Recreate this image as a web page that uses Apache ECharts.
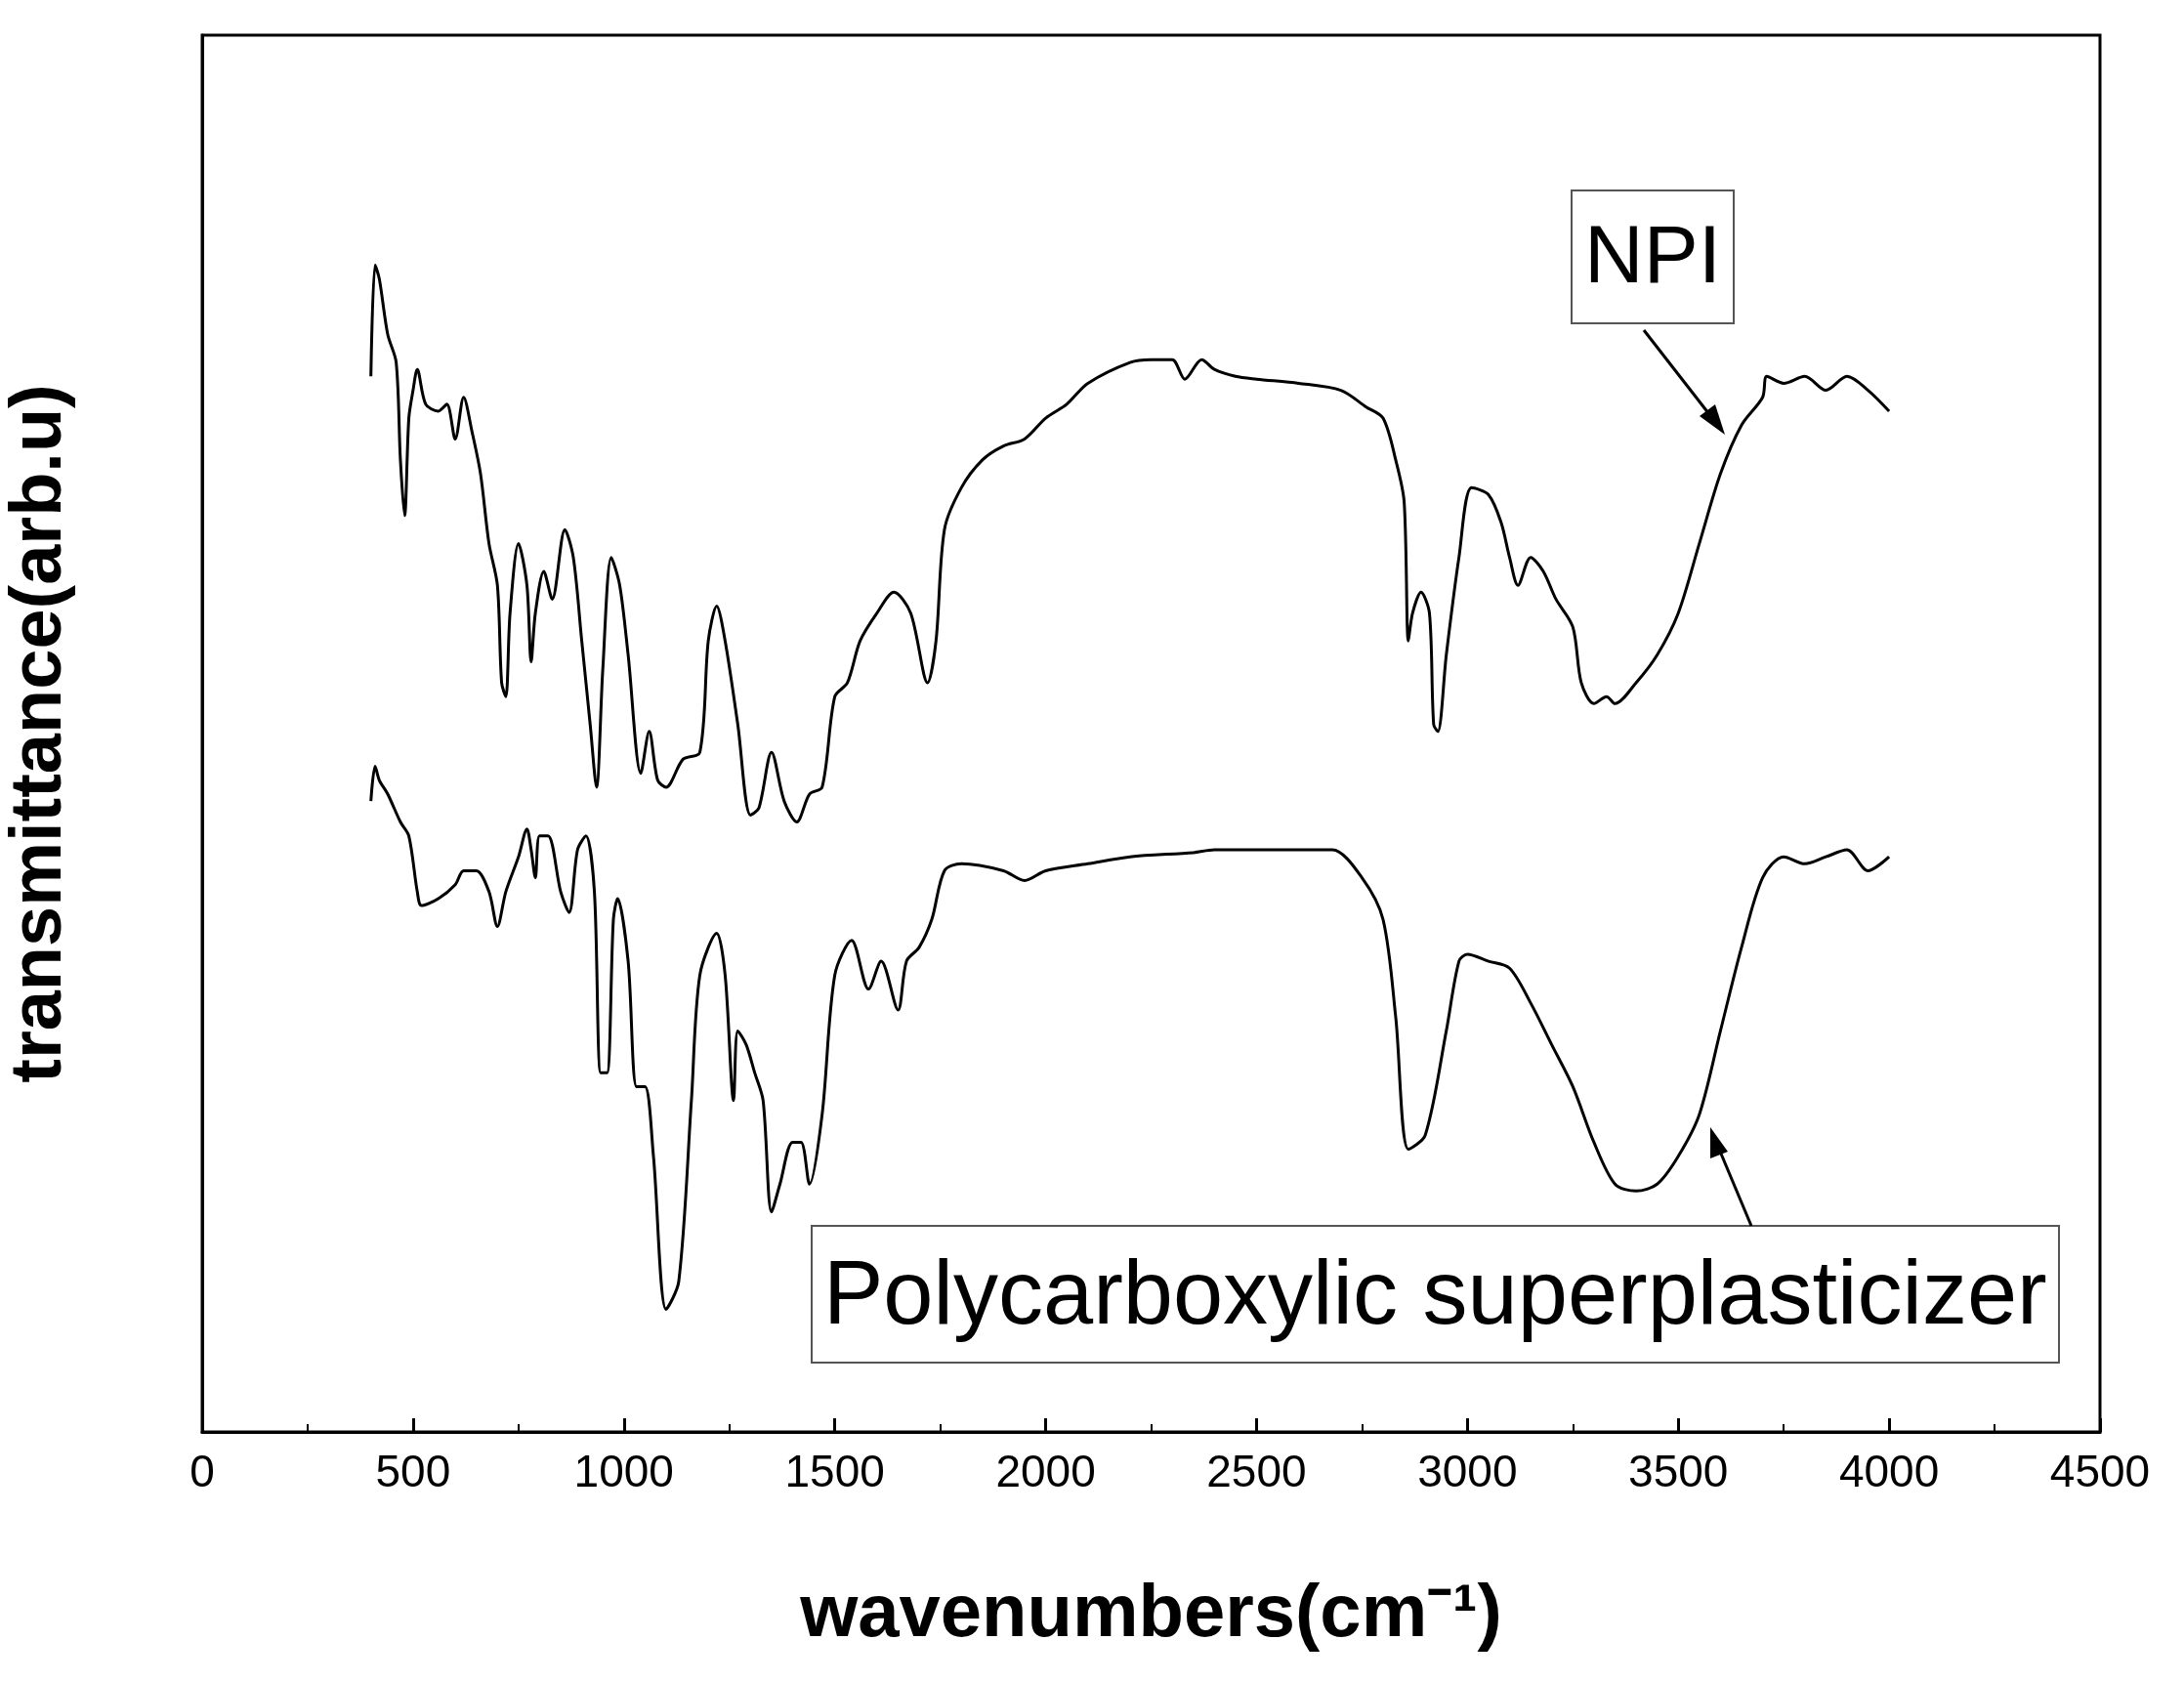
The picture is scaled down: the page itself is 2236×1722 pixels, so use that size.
<!DOCTYPE html><html><head><meta charset="utf-8"><script src="https://cdn.jsdelivr.net/npm/echarts@6/dist/echarts.min.js"></script>
<style>html,body{margin:0;background:#fff}#c{width:2236px;height:1722px}</style></head><body><div id="c"></div><script>
const npiWave=[400,410,420,440,460,470,480,490,500,510,530,560,580,600,620,640,660,680,700,710,720,730,750,770,780,790,810,830,860,880,900,920,935,950,970,990,1010,1040,1060,1080,1100,1140,1180,1200,1220,1240,1270,1300,1320,1350,1380,1410,1440,1470,1500,1530,1560,1600,1640,1680,1720,1740,1760,1800,1850,1900,1950,2000,2050,2100,2200,2250,2300,2330,2370,2400,2450,2500,2600,2700,2760,2800,2830,2850,2860,2870,2890,2910,2920,2930,2950,2980,3010,3050,3080,3100,3120,3150,3180,3210,3250,3270,3300,3330,3350,3400,3450,3500,3550,3600,3650,3700,3710,3750,3800,3850,3900,3950,4000];
const npiPix=[270,190,200,240,260,330,370,300,280,265,290,295,290,315,285,310,340,390,420,490,500,440,390,420,475,440,410,430,380,400,460,520,565,480,400,420,470,555,525,560,565,545,540,460,435,460,520,585,580,540,575,590,570,565,500,490,460,440,425,440,490,460,380,350,330,320,315,300,290,275,260,258,258,272,258,265,270,272,275,280,292,300,330,360,460,440,425,440,520,525,470,400,350,355,375,400,420,400,410,430,450,490,505,500,505,490,470,440,390,340,305,285,270,275,270,280,270,280,295];
const pcWave=[400,410,420,440,470,490,510,520,560,600,620,650,680,700,720,750,770,780,790,800,820,850,870,890,910,930,945,960,975,985,1010,1030,1050,1070,1100,1130,1160,1180,1220,1240,1260,1270,1290,1310,1330,1350,1370,1400,1420,1440,1470,1500,1540,1580,1610,1650,1670,1700,1730,1760,1800,1900,1950,2000,2100,2200,2350,2400,2500,2600,2680,2750,2800,2830,2860,2900,2950,2980,3000,3050,3100,3150,3200,3250,3300,3350,3400,3450,3500,3550,3600,3650,3700,3750,3800,3850,3900,3950,4000];
const pcPix=[575,550,560,570,590,600,640,650,645,635,625,625,640,665,640,615,595,610,630,600,600,640,655,610,600,640,770,770,660,645,690,780,780,830,940,920,790,700,670,700,790,740,750,770,790,870,850,820,820,850,800,700,675,710,690,725,690,680,660,625,620,625,632,625,620,615,612,610,610,610,610,630,660,730,825,815,740,690,685,690,695,720,750,780,820,850,855,850,830,800,740,680,630,615,620,615,610,625,615];
const xTicks=[0,500,1000,1500,2000,2500,3000,3500,4000,4500];
const toPairs=(w,p)=>w.map((x,i)=>[x,1028-p[i]]);
const ch=echarts.init(document.getElementById('c'));
const ls={color:'#000',width:3};
const F='Arial,Liberation Sans';
ch.setOption({animation:false,
grid:{left:207,right:86,top:36,bottom:256,containLabel:false,outerBoundsMode:'none'},
xAxis:{type:'value',min:0,max:4500,interval:500,
 axisLine:{lineStyle:{color:'#000',width:3}},axisTick:{inside:true,length:14,lineStyle:{color:'#000',width:3}},
 minorTick:{show:true,splitNumber:2,length:8,lineStyle:{color:'#000',width:2}},
 axisLabel:{fontSize:46,color:'#000',margin:20,fontFamily:F,formatter:v=>xTicks.includes(v)?String(v):''},splitLine:{show:false},
 name:'wavenumbers(cm⁻¹)',nameLocation:'middle',nameGap:150,nameTextStyle:{fontSize:76,fontWeight:'bold',color:'#000',fontFamily:F}},
yAxis:{type:'value',min:0,max:1003,axisLine:{show:true,lineStyle:{color:'#000',width:3}},axisTick:{show:false},axisLabel:{show:false},splitLine:{show:false},
 name:'transmittance(arb.u)',nameLocation:'middle',nameGap:128,nameTextStyle:{fontSize:74,fontWeight:'bold',color:'#000',fontFamily:F}},
series:[
 {type:'line',data:toPairs(npiWave,npiPix),showSymbol:false,lineStyle:ls,smooth:0.3},
 {type:'line',data:toPairs(pcWave,pcPix),showSymbol:false,lineStyle:ls,smooth:0.3}],
graphic:[
 {type:'rect',shape:{x:207,y:36,width:1943,height:1430},style:{fill:'none',stroke:'#000',lineWidth:3},silent:true},
 {type:'rect',shape:{x:1609,y:195,width:166,height:136},style:{fill:'#fff',stroke:'#555',lineWidth:2}},
 {type:'text',x:1692,y:266,style:{text:'NPI',fontSize:84,fill:'#000',align:'center',verticalAlign:'middle',fontFamily:F}},
 {type:'line',shape:{x1:1683,y1:338,x2:1760,y2:437},style:{stroke:'#000',lineWidth:3}},
 {type:'polygon',shape:{points:[[1766,445],[1740,426],[1756,414]]},style:{fill:'#000'}},
 {type:'rect',shape:{x:831,y:1255,width:1277,height:140},style:{fill:'#fff',stroke:'#555',lineWidth:2}},
 {type:'text',x:843,y:1330,style:{text:'Polycarboxylic superplasticizer',fontSize:92,fill:'#000',align:'left',verticalAlign:'middle',fontFamily:F}},
 {type:'line',shape:{x1:1793,y1:1255,x2:1754,y2:1162},style:{stroke:'#000',lineWidth:3}},
 {type:'polygon',shape:{points:[[1751,1154],[1751,1186],[1769,1179]]},style:{fill:'#000'}}
]});
</script></body></html>
